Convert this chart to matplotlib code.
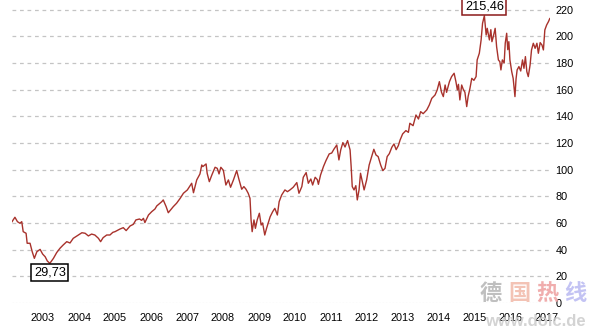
import matplotlib
matplotlib.use("Agg")
import matplotlib.pyplot as plt
import numpy as np

plt.rcParams['font.family'] = ['Liberation Sans', 'DejaVu Sans']

# time in decimal years, price level
years = [
    2002.14, 2002.22, 2002.29, 2002.36, 2002.41, 2002.45, 2002.53, 2002.56, 2002.64, 2002.70,
    2002.76, 2002.83, 2002.92, 2002.99, 2003.06, 2003.12, 2003.19, 2003.29, 2003.38, 2003.47,
    2003.56, 2003.66, 2003.75, 2003.84, 2003.98, 2004.08, 2004.17, 2004.26, 2004.35, 2004.44,
    2004.54, 2004.60, 2004.67, 2004.77, 2004.86, 2004.94, 2005.00, 2005.14, 2005.23, 2005.31,
    2005.42, 2005.51, 2005.58, 2005.68, 2005.74, 2005.79, 2005.83, 2005.93, 2006.02, 2006.11,
    2006.16, 2006.25, 2006.30, 2006.34, 2006.42, 2006.48, 2006.55, 2006.62, 2006.71, 2006.81,
    2006.90, 2007.01, 2007.13, 2007.18, 2007.27, 2007.36, 2007.41, 2007.44, 2007.53, 2007.56,
    2007.62, 2007.69, 2007.78, 2007.84, 2007.89, 2007.94, 2008.01, 2008.08, 2008.15, 2008.21,
    2008.29, 2008.38, 2008.44, 2008.52, 2008.58, 2008.64, 2008.70, 2008.75, 2008.78, 2008.81,
    2008.86, 2008.90, 2008.95, 2009.01, 2009.06, 2009.10, 2009.16, 2009.21, 2009.31, 2009.38,
    2009.44, 2009.51, 2009.56, 2009.63, 2009.72, 2009.79, 2009.86, 2009.95, 2010.05, 2010.11,
    2010.19, 2010.23, 2010.31, 2010.37, 2010.44, 2010.49, 2010.56, 2010.62, 2010.65, 2010.71,
    2010.79, 2010.86, 2010.95, 2011.02, 2011.08, 2011.16, 2011.22, 2011.27, 2011.33, 2011.39,
    2011.46, 2011.53, 2011.56, 2011.59, 2011.64, 2011.69, 2011.73, 2011.78, 2011.82, 2011.87,
    2011.92, 2011.99, 2012.06, 2012.13, 2012.19, 2012.25, 2012.31, 2012.38, 2012.44, 2012.50,
    2012.56, 2012.62, 2012.69, 2012.75, 2012.81, 2012.87, 2012.92, 2012.99, 2013.08, 2013.15,
    2013.19, 2013.28, 2013.36, 2013.43, 2013.49, 2013.56, 2013.66, 2013.73, 2013.80, 2013.89,
    2013.95, 2014.01, 2014.07, 2014.12, 2014.17, 2014.21, 2014.29, 2014.35, 2014.42, 2014.47,
    2014.51, 2014.54, 2014.58, 2014.63, 2014.67, 2014.72, 2014.77, 2014.81, 2014.86, 2014.91,
    2014.97, 2015.03, 2015.06, 2015.12, 2015.17, 2015.21, 2015.26, 2015.31, 2015.34, 2015.40,
    2015.44, 2015.47, 2015.51, 2015.56, 2015.60, 2015.65, 2015.69, 2015.72, 2015.76, 2015.81,
    2015.84, 2015.88, 2015.91, 2015.94, 2015.97, 2016.02, 2016.06, 2016.11, 2016.14, 2016.17,
    2016.22, 2016.27, 2016.32, 2016.36, 2016.40, 2016.44, 2016.48, 2016.53, 2016.57, 2016.62,
    2016.67, 2016.72, 2016.76, 2016.81, 2016.86, 2016.90, 2016.94, 2016.99, 2017.04, 2017.08,
    2017.11,
]
prices = [
    61.0, 64.3, 61.0, 59.8, 61.0, 53.5, 52.3, 44.8, 44.8, 38.5,
    33.5, 38.5, 40.2, 36.7, 34.7, 31.5, 29.73, 33.5, 37.8, 41.0,
    43.5, 46.0, 45.0, 48.5, 51.0, 52.7, 52.3, 50.3, 51.7, 51.0,
    48.5, 46.0, 49.0, 51.0, 51.0, 53.0, 53.5, 55.5, 56.5, 54.3,
    57.8, 59.0, 62.3, 63.0, 62.0, 63.5, 60.3, 66.0, 68.5, 70.5,
    72.8, 74.8, 76.0, 77.3, 72.3, 67.7, 70.0, 72.3, 74.8, 78.5,
    82.3, 84.8, 89.8, 82.7, 92.3, 96.8, 103.5, 102.3, 104.3, 97.3,
    91.0, 96.0, 101.8, 101.0, 96.8, 101.8, 99.5, 88.5, 92.3, 86.8,
    92.3, 99.3, 93.0, 85.3, 87.3, 85.3, 82.3, 78.5, 62.3, 53.5,
    62.3, 56.0, 62.3, 67.3, 58.5, 60.0, 51.0, 56.0, 64.7, 68.5,
    71.0, 66.0, 76.0, 81.0, 84.8, 83.5, 84.8, 86.8, 90.3, 82.3,
    87.3, 94.3, 97.8, 89.8, 93.0, 88.5, 94.3, 92.5, 89.0, 96.0,
    102.3, 106.8, 111.8, 112.5, 115.3, 118.5, 107.3, 114.8, 120.3, 117.0,
    121.8, 114.8, 102.3, 87.3, 84.8, 88.0, 77.3, 85.0, 97.3, 91.0,
    84.8, 92.3, 103.5, 109.8, 115.3, 111.0, 109.8, 103.5, 99.3, 101.0,
    109.8, 112.0, 116.8, 119.3, 115.0, 118.0, 122.3, 126.8, 129.3, 128.0,
    134.8, 133.0, 141.0, 138.0, 143.5, 142.0, 144.8, 148.5, 153.5, 156.0,
    159.8, 166.0, 158.0, 154.8, 163.5, 158.0, 166.0, 169.8, 172.3, 166.0,
    159.8, 164.0, 152.3, 163.5, 160.5, 158.0, 147.3, 155.0, 161.0, 168.5,
    167.0, 169.8, 182.3, 187.3, 197.3, 209.8, 215.46, 201.0, 206.0, 197.3,
    205.0, 196.0, 200.0, 206.0, 192.3, 182.3, 181.0, 174.8, 182.3, 180.0,
    194.8, 202.3, 190.0, 196.0, 182.3, 173.5, 168.5, 154.8, 168.0, 174.8,
    177.3, 174.0, 182.3, 176.0, 184.8, 173.5, 169.8, 178.5, 189.8, 194.8,
    191.0, 194.8, 187.3, 195.3, 193.5, 189.8, 204.8, 208.5, 211.0, 213.5,
    212.3,
]
year_ticks = list(range(2003, 2018))
y_ticks = list(range(0, 221, 20))

fig = plt.figure(figsize=(5.95, 3.35), dpi=100)
ax = fig.add_axes([12 / 595, 32 / 335, 538 / 595, 300 / 335])

x0 = 2003 - 31 / 36
ax.set_xlim(x0, x0 + 538 / 36)
ax.set_ylim(0, 225)

for v in y_ticks[1:]:
    ax.axhline(v, color='#c4c4c4', lw=0.9, ls=(0, (3, 3)), zorder=1)
ax.axhline(0, color='#c4c4c4', lw=0.8, ls=(0, (1.5, 1.5)), zorder=1)

ax.plot(years, prices, color='#a8322c', lw=1.0, zorder=3)

# high / low labels
i_hi = int(np.argmax(prices))
i_lo = int(np.argmin(prices))
ax.annotate(f"{prices[i_hi]:.2f}".replace('.', ','), (years[i_hi], prices[i_hi]),
            xytext=(0, 2.5), textcoords='offset points', ha='center', va='bottom',
            fontsize=9.2, color='black', zorder=5,
            bbox=dict(boxstyle='square,pad=0.2', fc='white', ec='#8b1a1a', lw=1.1))
ax.annotate(f"{prices[i_lo]:.2f}".replace('.', ','), (years[i_lo], prices[i_lo]),
            xytext=(0, -2.5), textcoords='offset points', ha='center', va='top',
            fontsize=9.2, color='black', zorder=5,
            bbox=dict(boxstyle='square,pad=0.2', fc='white', ec='black', lw=1.1))

ax.set_xticks(year_ticks)
ax.set_xticklabels([str(y) for y in year_ticks])
ax.set_yticks(y_ticks)
ax.yaxis.tick_right()
ax.tick_params(axis='y', length=0, pad=4, labelsize=7.8)
ax.tick_params(axis='x', length=0, pad=7, labelsize=7.8)
for s in ax.spines.values():
    s.set_visible(False)

# site watermark
wm = ['德', '国', '热', '线']
wm_colors = ['#b4b4b4', '#f2b9a8', '#ee9f9f', '#b9b9f2']
for k, (ch, c) in enumerate(zip(wm, wm_colors)):
    fig.text((491 + k * 28) / 595, 1 - 294 / 335, ch, ha='center', va='center',
             fontsize=16, fontweight='bold', color=c, alpha=0.85,
             family=['Noto Sans CJK SC'])
fig.text(535 / 595, 1 - 322 / 335, 'www.dolc.de', ha='center', va='center',
         fontsize=12, fontweight='bold', color='#cccccc', alpha=0.85)

fig.savefig('out.png', dpi=100)
